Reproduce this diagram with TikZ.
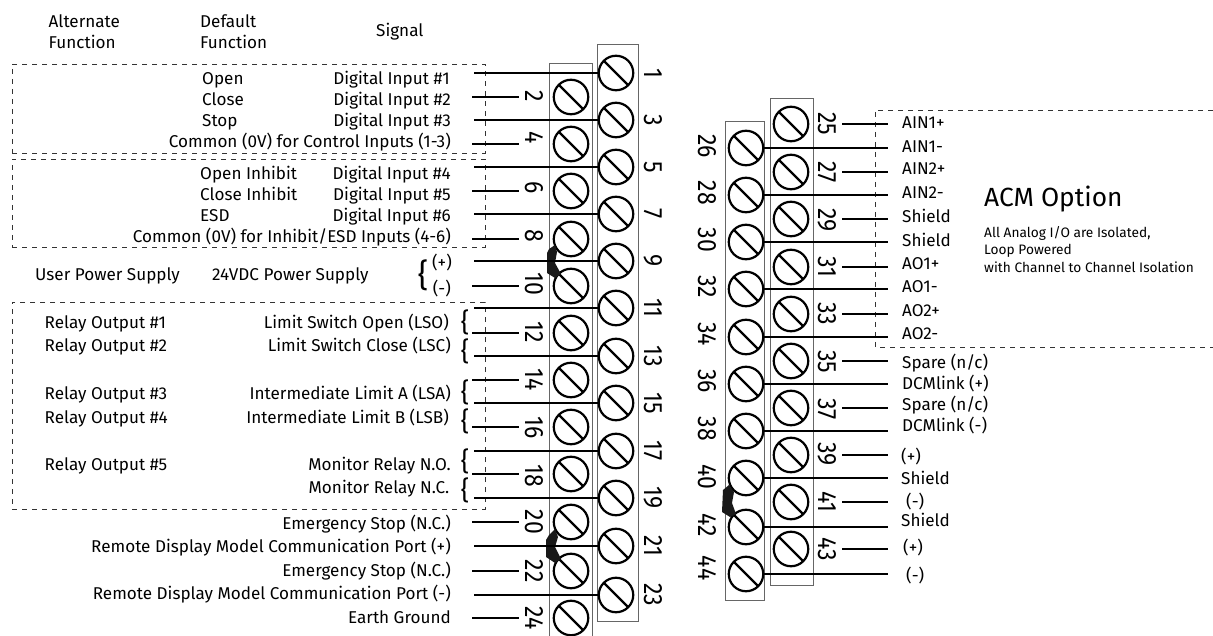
\documentclass[tikz,border=0pt]{standalone}
\usepackage{fontspec}
\setmainfont{Fira Sans}
\tikzset{
  screwnode/.style={draw, circle, inner sep=0, minimum size=34.5, line width=2.2,
    path picture={\draw[line width=2.2] (path picture bounding box.north west) -- (path picture bounding box.south east);}},
  numtext/.style={inner sep=0, rotate=-90, yscale=1.15, font=\fontsize{23}{23}\selectfont},
  wire/.style={line width=2.2},
  strip/.style={draw=black!60, line width=1},
  dashbox/.style={draw=black!80, line width=0.7, dash pattern=on 5pt off 5pt},
  lblright/.style={inner sep=0, anchor=base east, font=\fontsize{17.1}{21}\selectfont},
  lblleft/.style={inner sep=0, anchor=base west, font=\fontsize{17.1}{21}\selectfont},
  bracemark/.style={inner sep=0, font=\fontsize{26}{26}\selectfont}
}
\begin{document}
\begin{tikzpicture}[x=1pt,y=-1pt]
  \useasboundingbox (0,0) rectangle (1213,636);
  % strips
  \node[strip, minimum width=41, minimum height=576] (oddleft) at (617.5,333) {};
  \coordinate (stripa) at (549,636);
  \coordinate (stripb) at (592,64);
  \coordinate (stripc) at (592,636);
  \draw[strip] (stripa) |- (stripb) -- (stripc);
  \node[strip, minimum width=39, minimum height=478] (evenright) at (744.5,361) {};
  \node[strip, minimum width=43, minimum height=486] (oddright) at (791.5,342) {};
  % dashed boxes
  \node[dashbox, minimum width=473, minimum height=89] (controlbox) at (248.5,108.5) {};
  \node[dashbox, minimum width=473, minimum height=88] (inhibitbox) at (248.5,203) {};
  \node[dashbox, minimum width=473, minimum height=207] (relaybox) at (248.5,405.5) {};
  \coordinate (acmtop) at (1213,110);
  \coordinate (acmbot) at (1213,347);
  \coordinate (acmcorner) at (875,347);
  \draw[dashbox] (acmtop) -| (acmcorner) -- (acmbot);
  % screws, left block
  \node[screwnode] (s1) at (616,73) {};
  \node[screwnode] (s3) at (616,120) {};
  \node[screwnode] (s5) at (616,167) {};
  \node[screwnode] (s7) at (616,214) {};
  \node[screwnode] (s9) at (616,261) {};
  \node[screwnode] (s11) at (616,308) {};
  \node[screwnode] (s13) at (616,356) {};
  \node[screwnode] (s15) at (616,403) {};
  \node[screwnode] (s17) at (616,451) {};
  \node[screwnode] (s19) at (616,498) {};
  \node[screwnode] (s21) at (616,546) {};
  \node[screwnode] (s23) at (616,595) {};
  \node[screwnode] (s2) at (571,97) {};
  \node[screwnode] (s4) at (571,144) {};
  \node[screwnode] (s6) at (571,191) {};
  \node[screwnode] (s8) at (571,239) {};
  \node[screwnode] (s10) at (571,286) {};
  \node[screwnode] (s12) at (571,333) {};
  \node[screwnode] (s14) at (571,380) {};
  \node[screwnode] (s16) at (571,427) {};
  \node[screwnode] (s18) at (571,474) {};
  \node[screwnode] (s20) at (571,522) {};
  \node[screwnode] (s22) at (571,571) {};
  \node[screwnode] (s24) at (571,618) {};
  % screws, right block
  \node[screwnode] (s26) at (746,148) {};
  \node[screwnode] (s28) at (746,195) {};
  \node[screwnode] (s30) at (746,242) {};
  \node[screwnode] (s32) at (746,289) {};
  \node[screwnode] (s34) at (746,337) {};
  \node[screwnode] (s36) at (746,384) {};
  \node[screwnode] (s38) at (746,431) {};
  \node[screwnode] (s40) at (746,478) {};
  \node[screwnode] (s42) at (746,527) {};
  \node[screwnode] (s44) at (746,574) {};
  \node[screwnode] (s25) at (791,124) {};
  \node[screwnode] (s27) at (791,172) {};
  \node[screwnode] (s29) at (791,219) {};
  \node[screwnode] (s31) at (791,267) {};
  \node[screwnode] (s33) at (791,314) {};
  \node[screwnode] (s35) at (791,361) {};
  \node[screwnode] (s37) at (791,408) {};
  \node[screwnode] (s39) at (791,455) {};
  \node[screwnode] (s41) at (791,502) {};
  \node[screwnode] (s43) at (791,549) {};
  % jumpers
  \fill[black!90] (555,245) -- (549,249) -- (547,253) -- (547,273) -- (555,278) -- (561,274) -- (555,263) -- (557,252) -- cycle;
  \fill[black!90] (555,529) -- (549,535) -- (546,540) -- (546,557) -- (555,563) -- (561,559) -- (555,547) -- (558,537) -- cycle;
  \fill[black!90] (729,485) -- (723,490) -- (722,512) -- (730,517) -- (736,514) -- (732,503) -- (734,492) -- cycle;
  % numbers
  \node[numtext] (n1) at (653,73) {1};
  \node[numtext] (n3) at (653,120) {3};
  \node[numtext] (n5) at (653,167) {5};
  \node[numtext] (n7) at (653,214) {7};
  \node[numtext] (n9) at (653,261) {9};
  \node[numtext] (n11) at (653,308) {11};
  \node[numtext] (n13) at (653,356) {13};
  \node[numtext] (n15) at (653,403) {15};
  \node[numtext] (n17) at (653,451) {17};
  \node[numtext] (n19) at (653,498) {19};
  \node[numtext] (n21) at (653,546) {21};
  \node[numtext] (n23) at (653,595) {23};
  \node[numtext] (n2) at (534,96) {2};
  \node[numtext] (n4) at (534,138) {4};
  \node[numtext] (n6) at (534,188) {6};
  \node[numtext] (n8) at (534,236) {8};
  \node[numtext] (n10) at (534,284) {10};
  \node[numtext] (n12) at (534,332) {12};
  \node[numtext] (n14) at (534,380) {14};
  \node[numtext] (n16) at (534,428) {16};
  \node[numtext] (n18) at (534,476) {18};
  \node[numtext] (n20) at (534,522) {20};
  \node[numtext] (n22) at (534,571) {22};
  \node[numtext] (n24) at (534,618) {24};
  \node[numtext] (n26) at (707,146) {26};
  \node[numtext] (n28) at (707,193) {28};
  \node[numtext] (n30) at (707,240) {30};
  \node[numtext] (n32) at (707,287) {32};
  \node[numtext] (n34) at (707,334) {34};
  \node[numtext] (n36) at (707,381) {36};
  \node[numtext] (n38) at (707,429) {38};
  \node[numtext] (n40) at (707,477) {40};
  \node[numtext] (n42) at (707,525) {42};
  \node[numtext] (n44) at (707,568) {44};
  \node[numtext] (n25) at (827,124) {25};
  \node[numtext] (n27) at (827,172) {27};
  \node[numtext] (n29) at (827,220) {29};
  \node[numtext] (n31) at (827,267) {31};
  \node[numtext] (n33) at (827,314) {33};
  \node[numtext] (n35) at (827,362) {35};
  \node[numtext] (n37) at (827,409) {37};
  \node[numtext] (n39) at (827,454) {39};
  \node[numtext] (n41) at (827,502) {41};
  \node[numtext] (n43) at (827,549) {43};
  % wires, left block
  \coordinate (e1) at (474,73); \draw[wire] (e1) -- (s1);
  \coordinate (e3) at (474,120); \draw[wire] (e3) -- (s3);
  \coordinate (e5) at (474,167); \draw[wire] (e5) -- (s5);
  \coordinate (e7) at (474,214); \draw[wire] (e7) -- (s7);
  \coordinate (e9) at (474,261); \draw[wire] (e9) -- (s9);
  \coordinate (e11) at (474,308); \draw[wire] (e11) -- (s11);
  \coordinate (e13) at (474,356); \draw[wire] (e13) -- (s13);
  \coordinate (e15) at (474,403); \draw[wire] (e15) -- (s15);
  \coordinate (e17) at (474,451); \draw[wire] (e17) -- (s17);
  \coordinate (e19) at (474,498); \draw[wire] (e19) -- (s19);
  \coordinate (e21) at (474,546); \draw[wire] (e21) -- (s21);
  \coordinate (e23) at (474,595); \draw[wire] (e23) -- (s23);
  \coordinate (e2) at (472,97); \coordinate (f2) at (519,97); \draw[wire] (e2) -- (f2);
  \coordinate (e4) at (472,144); \coordinate (f4) at (519,144); \draw[wire] (e4) -- (f4);
  \coordinate (e6) at (472,191); \coordinate (f6) at (519,191); \draw[wire] (e6) -- (f6);
  \coordinate (e8) at (472,239); \coordinate (f8) at (519,239); \draw[wire] (e8) -- (f8);
  \coordinate (e10) at (472,286); \coordinate (f10) at (519,286); \draw[wire] (e10) -- (f10);
  \coordinate (e12) at (472,333); \coordinate (f12) at (519,333); \draw[wire] (e12) -- (f12);
  \coordinate (e14) at (472,380); \coordinate (f14) at (519,380); \draw[wire] (e14) -- (f14);
  \coordinate (e16) at (472,427); \coordinate (f16) at (519,427); \draw[wire] (e16) -- (f16);
  \coordinate (e18) at (472,474); \coordinate (f18) at (519,474); \draw[wire] (e18) -- (f18);
  \coordinate (e20) at (472,522); \coordinate (f20) at (519,522); \draw[wire] (e20) -- (f20);
  \coordinate (e22) at (472,571); \coordinate (f22) at (519,571); \draw[wire] (e22) -- (f22);
  \coordinate (e24) at (472,618); \coordinate (f24) at (519,618); \draw[wire] (e24) -- (f24);
  % wires, right block
  \coordinate (e26) at (888,148); \draw[wire] (s26) -- (e26);
  \coordinate (e28) at (888,195); \draw[wire] (s28) -- (e28);
  \coordinate (e30) at (888,242); \draw[wire] (s30) -- (e30);
  \coordinate (e32) at (888,289); \draw[wire] (s32) -- (e32);
  \coordinate (e34) at (888,337); \draw[wire] (s34) -- (e34);
  \coordinate (e36) at (888,384); \draw[wire] (s36) -- (e36);
  \coordinate (e38) at (888,431); \draw[wire] (s38) -- (e38);
  \coordinate (e40) at (888,478); \draw[wire] (s40) -- (e40);
  \coordinate (e42) at (888,527); \draw[wire] (s42) -- (e42);
  \coordinate (e44) at (888,574); \draw[wire] (s44) -- (e44);
  \coordinate (e25) at (842,124); \coordinate (f25) at (888,124); \draw[wire] (e25) -- (f25);
  \coordinate (e27) at (842,172); \coordinate (f27) at (888,172); \draw[wire] (e27) -- (f27);
  \coordinate (e29) at (842,219); \coordinate (f29) at (888,219); \draw[wire] (e29) -- (f29);
  \coordinate (e31) at (842,267); \coordinate (f31) at (888,267); \draw[wire] (e31) -- (f31);
  \coordinate (e33) at (842,314); \coordinate (f33) at (888,314); \draw[wire] (e33) -- (f33);
  \coordinate (e35) at (842,361); \coordinate (f35) at (888,361); \draw[wire] (e35) -- (f35);
  \coordinate (e37) at (842,408); \coordinate (f37) at (888,408); \draw[wire] (e37) -- (f37);
  \coordinate (e39) at (842,455); \coordinate (f39) at (888,455); \draw[wire] (e39) -- (f39);
  \coordinate (e41) at (842,502); \coordinate (f41) at (888,502); \draw[wire] (e41) -- (f41);
  \coordinate (e43) at (842,549); \coordinate (f43) at (888,549); \draw[wire] (e43) -- (f43);
  % headers
  \node[lblleft, align=left, anchor=west] (hdralt) at (48.5,32) {Alternate\\Function};
  \node[lblleft, align=left, anchor=west] (hdrdef) at (200,32) {Default\\Function};
  \node[lblleft] (hdrsig) at (376,37) {Signal};
  % left labels
  \node[lblleft] (dopen) at (202,85) {Open};
  \node[lblleft] (dclose) at (202,106) {Close};
  \node[lblleft] (dstop) at (202,127) {Stop};
  \node[lblright] (sig1) at (450,85) {Digital Input \#1};
  \node[lblright] (sig2) at (451,106) {Digital Input \#2};
  \node[lblright] (sig3) at (451,127) {Digital Input \#3};
  \node[lblright] (sigc1) at (451,148) {Common (0V) for Control Inputs (1-3)};
  \node[lblleft] (dinh1) at (200,180) {Open Inhibit};
  \node[lblleft] (dinh2) at (200,201) {Close Inhibit};
  \node[lblleft] (desd) at (200,222) {ESD};
  \node[lblright] (sig4) at (451,180) {Digital Input \#4};
  \node[lblright] (sig5) at (451,201) {Digital Input \#5};
  \node[lblright] (sig6) at (451,222) {Digital Input \#6};
  \node[lblright] (sigc2) at (451,243) {Common (0V) for Inhibit/ESD Inputs (4-6)};
  \node[lblleft] (auser) at (35,281) {User Power Supply};
  \node[lblleft] (dvdc) at (212,281) {24VDC Power Supply};
  \node[bracemark, font=\fontsize{32}{32}\selectfont] (brp) at (423,275) {\{};
  \node[lblright] (sigp) at (452,269) {(+)};
  \node[lblright] (sigm) at (451,295) {(-)};
  \node[lblleft] (arel1) at (44.5,329) {Relay Output \#1};
  \node[lblleft] (arel2) at (44.5,352) {Relay Output \#2};
  \node[lblleft] (arel3) at (44.5,399) {Relay Output \#3};
  \node[lblleft] (arel4) at (44.5,423) {Relay Output \#4};
  \node[lblleft] (arel5) at (44.5,470) {Relay Output \#5};
  \node[lblright] (siglso) at (449,329) {Limit Switch Open (LSO)};
  \node[lblright] (siglsc) at (451,352) {Limit Switch Close (LSC)};
  \node[lblright] (siglsa) at (451,399) {Intermediate Limit A (LSA)};
  \node[lblright] (siglsb) at (449,423) {Intermediate Limit B (LSB)};
  \node[lblright] (signo) at (451,470) {Monitor Relay N.O.};
  \node[lblright] (signc) at (449.5,493) {Monitor Relay N.C.};
  \node[lblright] (sigstop1) at (451,529) {Emergency Stop (N.C.)};
  \node[lblright] (sigport1) at (451,552) {Remote Display Model Communication Port (+)};
  \node[lblright] (sigstop2) at (451,576) {Emergency Stop (N.C.)};
  \node[lblright] (sigport2) at (451,599) {Remote Display Model Communication Port (-)};
  \node[lblright] (sigearth) at (451,623) {Earth Ground};
  % small braces
  \node[bracemark] (br1) at (465,322) {\{};
  \node[bracemark] (br2) at (465,351) {\{};
  \node[bracemark] (br3) at (465,392) {\{};
  \node[bracemark] (br4) at (465,421) {\{};
  \node[bracemark] (br5) at (465,461) {\{};
  \node[bracemark] (br6) at (465,490) {\{};
  % right labels
  \node[lblleft] (ain1p) at (902,129) {AIN1+};
  \node[lblleft] (ain1m) at (902,153) {AIN1-};
  \node[lblleft] (ain2p) at (902,175) {AIN2+};
  \node[lblleft] (ain2m) at (902,199) {AIN2-};
  \node[lblleft] (shd1) at (902,223) {Shield};
  \node[lblleft] (shd2) at (902,247) {Shield};
  \node[lblleft] (ao1p) at (902,270) {AO1+};
  \node[lblleft] (ao1m) at (902,293) {AO1-};
  \node[lblleft] (ao2p) at (902,317) {AO2+};
  \node[lblleft] (ao2m) at (902,340) {AO2-};
  \node[lblleft] (spare1) at (902,368) {Spare (n/c)};
  \node[lblleft] (dcmp) at (902,389) {DCMlink (+)};
  \node[lblleft] (spare2) at (902,410) {Spare (n/c)};
  \node[lblleft] (dcmm) at (902,431) {DCMlink (-)};
  \node[lblleft] (lp1) at (901,462) {(+)};
  \node[lblleft] (shd3) at (901,484) {Shield};
  \node[lblleft] (lm1) at (906,507) {(-)};
  \node[lblleft] (shd4) at (901,526) {Shield};
  \node[lblleft] (lp2) at (903,553) {(+)};
  \node[lblleft] (lm2) at (906,581) {(-)};
  % option text
  \node[lblleft, font=\fontsize{26.3}{26.3}\selectfont] (acmtitle) at (984,207) {ACM Option};
  \node[lblleft, align=left, anchor=north west, font=\fontsize{13.7}{17.5}\selectfont] (acmnote) at (984,226) {All Analog I/O are Isolated,\\Loop Powered\\with Channel to Channel Isolation};
\end{tikzpicture}
\end{document}
